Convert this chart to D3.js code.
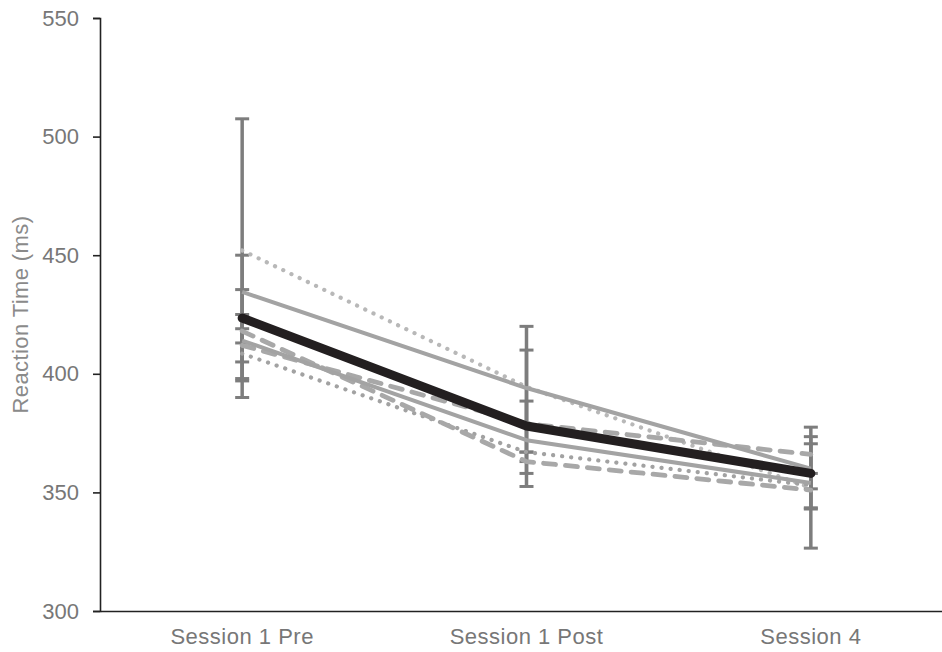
<!DOCTYPE html>
<html>
<head>
<meta charset="utf-8">
<script src="https://cdn.jsdelivr.net/npm/d3@7"></script>
<style>
  body { margin: 0; background: #fff; }
  text { font-family: "Liberation Sans", Arial, sans-serif; }
</style>
</head>
<body>
<div class="graf"></div>
<script>
//++++++++++++++++++++++++++++++++++++++++++++++++++\\
//                     DATA                         \\
//++++++++++++++++++++++++++++++++++++++++++++++++++\\
const sessions = ['Session 1 Pre', 'Session 1 Post', 'Session 4'];

const meanRT      = [423.5, 378, 358];   // debela crna
const solidUpper  = [434.5, 394, 360];
const solidLower  = [414, 372, 354];
const dottedUpper = [452, 394.5, 352];
const dottedLower = [408.5, 367, 353];
const dashedA     = [412, 379, 366];
const dashedB     = [418, 363, 351];

// error bars po sesiji: [low, high]
const errPre  = [[397, 507.5], [398, 450], [390, 435.5], [405, 425], [413, 419]];
const errPost = [[367, 420], [352.5, 410], [363, 388.5], [358, 367]];
const errS4   = [[326.5, 377.5], [343.5, 373.5], [343, 370.5], [351.5, 358]];

const yTicks = [300, 350, 400, 450, 500, 550];

//++++++++++++++++++++++++++++++++++++++++++++++++++\\
//                     MAIN                         \\
//++++++++++++++++++++++++++++++++++++++++++++++++++\\
main()
function main(){
    let width = 942,
    height = 652;

    let svg = d3.select('.graf')
        .append('svg')
        .attr('width', width)
        .attr('height', height);

    let x = d3.scaleBand()
        .domain(sessions)
        .range([100, 953]);

    let y = d3.scaleLinear()
        .domain([300, 550])
        .range([611, 18]);

    let cx = d => x(d) + x.bandwidth() / 2;

    // y os
    let yAxis = svg.append('g')
        .attr('transform', 'translate(100,0)')
        .call(d3.axisLeft(y).tickValues(yTicks).tickSize(7).tickPadding(14));
    yAxis.select('.domain').attr('stroke', '#222').attr('stroke-width', 1.6);
    yAxis.selectAll('.tick line').attr('stroke', '#222').attr('stroke-width', 1.6);
    yAxis.selectAll('.tick text')
        .attr('fill', '#777')
        .style('font-size', '22px')
        .style('font-family', '"Liberation Sans", Arial, sans-serif');

    // x os
    let xAxis = svg.append('g')
        .attr('transform', 'translate(0,611)')
        .call(d3.axisBottom(x).tickSize(0).tickPadding(17));
    xAxis.select('.domain').attr('stroke', '#222').attr('stroke-width', 1.6);
    xAxis.selectAll('.tick text')
        .attr('fill', '#777')
        .style('font-size', '22px')
        .style('letter-spacing', '0.5px')
        .style('font-family', '"Liberation Sans", Arial, sans-serif');

    svg.append('text')
        .attr('transform', `translate(28,${(y(300) + y(550)) / 2}) rotate(-90)`)
        .attr('text-anchor', 'middle')
        .attr('fill', '#8a8a8a')
        .style('font-size', '22px')
        .style('letter-spacing', '0.4px')
        .text('Reaction Time (ms)');

    ///////////////////////////////////////////
    // error bars
    let errG = svg.append('g');
    [errPre, errPost, errS4].forEach((bars, i) => {
        bars.forEach(b => {
            let xc = cx(sessions[i]);
            errG.append('line')
                .attr('x1', xc).attr('x2', xc)
                .attr('y1', y(b[0])).attr('y2', y(b[1]))
                .attr('stroke', '#7d7d7d').attr('stroke-width', 3.5);
            b.forEach(v => {
                errG.append('line')
                    .attr('x1', xc - 7).attr('x2', xc + 7)
                    .attr('y1', y(v)).attr('y2', y(v))
                    .attr('stroke', '#7d7d7d').attr('stroke-width', 3);
            });
        });
    });

    ///////////////////////////////////////////
    // linije
    let line = d3.line()
        .x((d, i) => cx(sessions[i]))
        .y(d => y(d));

    let linesG = svg.append('g').attr('fill', 'none');

    const series = [
        { vals: dottedUpper, color: '#b8b8b8', w: 4.2, dash: '0.1 9',  cap: 'round' },
        { vals: dottedLower, color: '#a2a2a2', w: 4.2, dash: '0.1 9',  cap: 'round' },
        { vals: dashedB,     color: '#a8a8a8', w: 4.8, dash: '12 10',  cap: 'round' },
        { vals: dashedA,     color: '#a8a8a8', w: 4.8, dash: '12 10',  cap: 'round' },
        { vals: solidLower,  color: '#a3a3a3', w: 4,   dash: null,     cap: 'butt' },
        { vals: solidUpper,  color: '#a3a3a3', w: 4,   dash: null,     cap: 'butt' },
        { vals: meanRT,      color: '#231f20', w: 9,   dash: null,     cap: 'round' }
    ];

    series.forEach(s => {
        linesG.append('path')
            .attr('d', line(s.vals))
            .attr('stroke', s.color)
            .attr('stroke-width', s.w)
            .attr('stroke-dasharray', s.dash)
            .attr('stroke-linecap', s.cap)
            .attr('stroke-linejoin', 'round');
    });
}
</script>
</body>
</html>
